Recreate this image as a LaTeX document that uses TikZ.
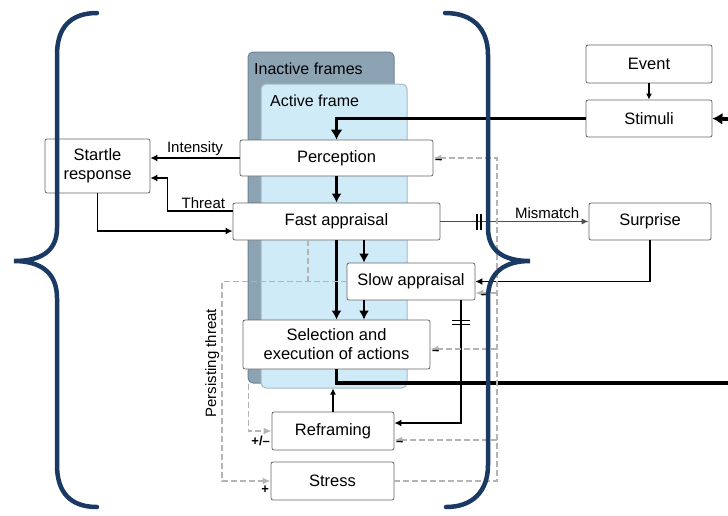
\documentclass[tikz,border=0pt]{standalone}
\usepackage{fontspec}
\setmainfont{Liberation Sans}
\usetikzlibrary{arrows.meta}
\definecolor{navy}{HTML}{1A3A63}
\definecolor{inact}{HTML}{8BA3B3}
\definecolor{inactline}{HTML}{6E8595}
\definecolor{act}{HTML}{D0EBF8}
\definecolor{actline}{HTML}{A7B8C4}
\definecolor{lgray}{HTML}{B4B4B4}
\tikzset{block/.style = {draw=black!60, fill=white, rounded corners=2pt, line width=0.8pt, align=center, font=\fontsize{16.5}{19}\selectfont, inner sep=2pt},
         frame/.style = {rounded corners=5pt, line width=1pt},
         lbl/.style = {font=\fontsize{15}{17}\selectfont, inner sep=2pt},
         sign/.style = {font=\fontsize{13}{15}\selectfont\bfseries, inner sep=1pt},
         arr/.style = {draw, line width=1.6pt, -{Latex[length=7pt,width=7pt]}},
         mid/.style = {draw, line width=2.6pt, -{Latex[length=9pt,width=10pt]}},
         heavy/.style = {draw, line width=3.8pt, -{Latex[length=10pt,width=12pt]}},
         fb/.style = {draw=lgray, line width=1.5pt, dash pattern=on 6pt off 3pt, -{Latex[length=8pt,width=7pt]}},
         brace/.style = {draw=navy, line width=4.5pt, line cap=round},
         cut/.pic = {\draw[line width=1.3pt] (-2,-#1) -- (-2,#1);
                     \draw[line width=1.3pt] (2,-#1) -- (2,#1);}}
\begin{document}
\begin{tikzpicture}[x=1pt,y=-1pt]
        \useasboundingbox (0,0) rectangle (728,515);

        % frames
        \node[frame, draw=inactline, fill=inact, minimum width=146, minimum height=331] (inactive) at (321,217.5) {};
        \node[lbl, anchor=west, font=\fontsize{16}{19}\selectfont] (inactlbl) at (252,69) {Inactive frames};
        \node[frame, draw=actline, fill=act, minimum width=146, minimum height=304] (active) at (334,236) {};
        \node[lbl, anchor=west, font=\fontsize{16}{19}\selectfont] (actlbl) at (268,101) {Active frame};

        % blocks
        \node[block, minimum width=193, minimum height=36] (percep) at (336.5,158) {Perception};
        \node[block, minimum width=207, minimum height=37] (fast) at (336.5,221.5) {Fast appraisal};
        \node[block, minimum width=128, minimum height=37] (slow) at (411,281.5) {Slow appraisal};
        \node[block, minimum width=187, minimum height=49] (select) at (336.5,344.5) {Selection and\\execution of actions};
        \node[block, minimum width=122, minimum height=38] (refr) at (333,431) {Reframing};
        \node[block, minimum width=123, minimum height=38] (stress) at (332.5,481) {Stress};
        \node[block, minimum width=105, minimum height=54] (startle) at (97.5,166) {Startle\\response};
        \node[block, minimum width=126, minimum height=38] (event) at (649,64) {Event};
        \node[block, minimum width=126, minimum height=37] (stimuli) at (649,118.5) {Stimuli};
        \node[block, minimum width=122, minimum height=37] (surprise) at (650,221.5) {Surprise};

        \coordinate (inR) at (728,119);
        \coordinate (outR) at (728,383);
        \coordinate (fbx) at (497,0);
        \coordinate (ptx) at (222,0);

        % main flow
        \draw[line width=1.2pt, -{Latex[length=6pt,width=6pt]}] (event) -- (stimuli);
        \draw[heavy] (inR) -- (stimuli.east);
        \draw[heavy] (stimuli.west) -| (percep.north);
        \draw[mid] (percep) -- (fast);
        \draw[mid] ([xshift=27.5]fast.south) -- ([xshift=27.5]fast.south |- slow.north);
        \draw[mid] (fast.south) -- (select.north);
        \draw[mid] ([xshift=-47]slow.south) -- ([xshift=-47]slow.south |- select.north);
        \draw[line width=3.8pt] (select.south) |- (outR);
        \draw[arr] ([xshift=50]slow.south) |- ([yshift=8]refr.east);
        \draw ([xshift=50]slow.south) ++(0,22) pic[rotate=90]{cut=9};
        \draw[line width=1.2pt, -{Latex[length=6pt,width=6pt]}] (refr.north) -- (refr.north |- active.south);

        % startle
        \draw[arr] (percep.west) -- node[lbl, above]{Intensity} (percep.west -| startle.east);
        \draw[arr] ([yshift=10.5]fast.west) -- node[lbl, above, pos=0.45]{Threat} ++(-65,0) |- ([yshift=-12]startle.east);
        \draw[arr] (startle.south) |- ([yshift=-9.5]fast.west);

        % surprise
        \draw[draw=black!70, line width=1.2pt, -{Latex[length=7pt,width=6pt]}] (fast.east) -- coordinate[pos=0.26] (m1) node[lbl, above, pos=0.72]{Mismatch} (surprise.west);
        \draw (m1) pic{cut=8};
        \draw[arr] (surprise.south) |- (slow.east);

        % stress feedback
        \coordinate (slowlow) at ([yshift=-11.5]slow.east);
        \coordinate (sellow) at ([yshift=-4.5]select.east);
        \coordinate (refrlow) at ([yshift=-9]refr.east);
        \draw[fb] (stress.east) -| (fbx |- percep.east) -- (percep.east) node[sign, anchor=north west]{--};
        \draw[fb] (fbx |- slowlow) -- (slowlow) node[sign, anchor=north west, xshift=4]{--};
        \draw[fb] (fbx |- sellow) -- (sellow) node[sign, anchor=north west]{--};
        \draw[fb] (fbx |- refrlow) -- (refrlow) node[sign, anchor=north west]{--};

        % persisting threat
        \draw[fb] (slow.west) -- (ptx |- slow.west) -- node[lbl, above, rotate=90, pos=0.41]{Persisting threat} (ptx |- stress.west) -- (stress.west) node[sign, anchor=north east, yshift=-3]{+};
        \draw[fb, -] ([xshift=-28.5]fast.south) -- ([xshift=-28.5]fast.south |- slow.west);
        \draw[fb] ([xshift=1]inactive.south west) |- (refr.west) node[sign, anchor=north east, yshift=-3]{+/--};

        % braces
        \draw[brace] (97,13) .. controls (70,13) and (57,28) .. (57,55) -- (57,228) .. controls (57,252) and (40,261) .. (14,261) .. controls (40,261) and (57,272) .. (57,298) -- (57,465) .. controls (57,492) and (70,507) .. (97,507);
        \draw[brace] (445,13) .. controls (472,13) and (488,28) .. (488,55) -- (488,228) .. controls (488,252) and (505,261) .. (530,261) .. controls (505,261) and (488,272) .. (488,298) -- (488,465) .. controls (488,492) and (472,507) .. (446,507);
\end{tikzpicture}
\end{document}
